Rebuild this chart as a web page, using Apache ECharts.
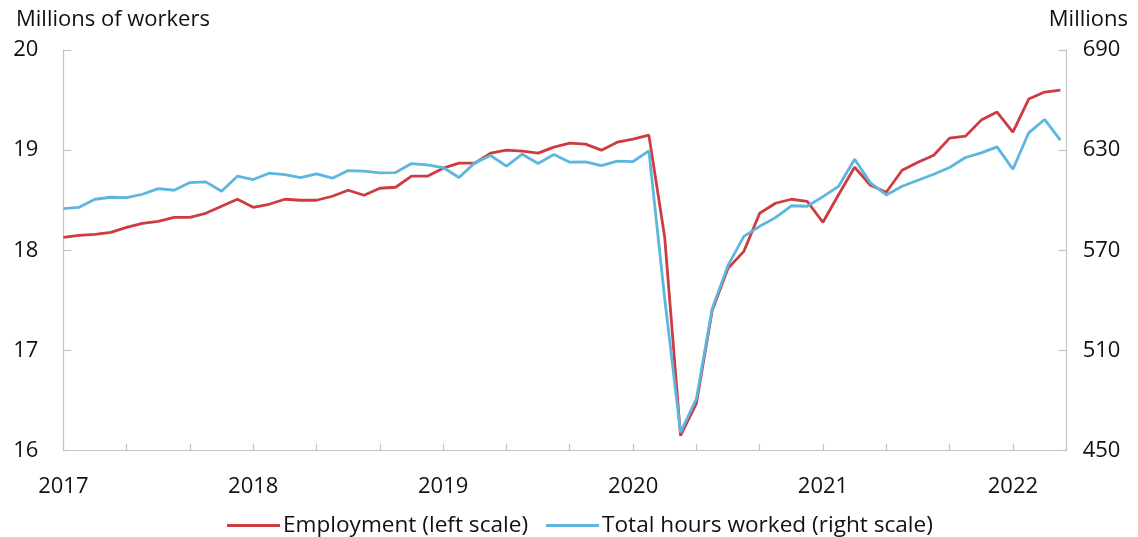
<!DOCTYPE html>
<html>
<head>
<meta charset="utf-8">
<script src="https://cdn.jsdelivr.net/npm/echarts@6/dist/echarts.min.js"></script>
<style>
html,body{margin:0;padding:0;background:#fff;}
#chart{width:1138px;height:537px;}
</style>
</head>
<body>
<div id="chart"></div>
<script>
// Monthly, Jan 2017 .. Apr 2022
const months = [];
for (let y = 2017; y <= 2022; y++) {
  for (let m = 1; m <= 12; m++) {
    if (y === 2022 && m > 4) break;
    months.push(y + '-' + String(m).padStart(2, '0'));
  }
}
const yearLabels = ['2017', '2018', '2019', '2020', '2021', '2022'];

// Employment, millions of workers (left scale)
const employment = [
  18.13, 18.15, 18.16, 18.18, 18.23, 18.27, 18.29, 18.33, 18.33, 18.37, 18.44, 18.51,
  18.43, 18.46, 18.51, 18.50, 18.50, 18.54, 18.60, 18.55, 18.62, 18.63, 18.74, 18.74,
  18.82, 18.87, 18.87, 18.97, 19.00, 18.99, 18.97, 19.03, 19.07, 19.06, 19.00, 19.08,
  19.11, 19.15, 18.13, 16.15, 16.47, 17.40, 17.82, 17.99, 18.37, 18.47, 18.51, 18.49,
  18.28, 18.56, 18.83, 18.65, 18.58, 18.80, 18.88, 18.95, 19.12, 19.14, 19.30, 19.38,
  19.18, 19.51, 19.58, 19.60
];

// Total hours worked, millions (right scale)
const hours = [
  595.0, 595.8, 600.6, 601.8, 601.6, 603.6, 607.0, 606.0, 610.6, 611.0, 605.4, 614.4,
  612.4, 616.2, 615.4, 613.6, 615.8, 613.2, 617.8, 617.4, 616.4, 616.6, 622.0, 621.2,
  619.6, 613.6, 622.4, 626.8, 620.4, 627.6, 622.0, 627.4, 622.8, 623.0, 620.8, 623.4,
  623.2, 629.6, 541.0, 461.0, 481.0, 535.0, 561.0, 578.4, 584.4, 589.6, 596.7, 596.4,
  602.2, 608.5, 624.6, 610.4, 603.2, 608.4, 612.0, 615.6, 619.6, 625.6, 628.4, 632.0,
  618.6, 640.4, 648.4, 636.0
];

const FONT = '"Open Sans", "Noto Sans", sans-serif';
const FS = 22;
const axisGray = '#c4c4c4';

const chart = echarts.init(document.getElementById('chart'), null, {renderer: 'canvas'});
chart.setOption({
  animation: false,
  backgroundColor: '#ffffff',
  textStyle: {fontFamily: FONT, color: '#111'},
  title: [
    {text: 'Millions of workers', left: 11, top: 4,
     textStyle: {fontFamily: FONT, fontSize: FS, fontWeight: 'normal', color: '#111'}},
    {text: 'Millions', right: 5, top: 4,
     textStyle: {fontFamily: FONT, fontSize: FS, fontWeight: 'normal', color: '#111'}}
  ],
  grid: {left: 63.3, right: 71.3, top: 50, bottom: 86.3, containLabel: false},
  legend: {
    left: 222, top: 509,
    itemWidth: 53, itemHeight: 3, itemGap: 18,
    icon: 'rect',
    textStyle: {fontFamily: FONT, fontSize: 22.6, color: '#111', padding: [0, 0, 0, -2]},
    data: ['Employment (left scale)', 'Total hours worked (right scale)']
  },
  xAxis: {
    type: 'value',
    min: 0, max: 63.4, interval: 4,
    splitLine: {show: false},
    axisLine: {lineStyle: {color: axisGray, width: 1.2}},
    axisTick: {inside: true, length: 7, lineStyle: {color: axisGray, width: 1.2}},
    axisLabel: {
      fontFamily: FONT, fontSize: FS, color: '#111', margin: 25,
      showMaxLabel: false,
      formatter: function (v) {
        return (Math.abs(v % 12) < 1e-6) ? yearLabels[Math.round(v / 12)] || '' : '';
      }
    }
  },
  yAxis: [
    {
      type: 'value', position: 'left', min: 16, max: 20, interval: 1,
      splitLine: {show: false},
      axisLine: {show: true, lineStyle: {color: axisGray, width: 1.2}},
      axisTick: {show: true, inside: true, length: 8, lineStyle: {color: axisGray, width: 1.2}},
      axisLabel: {fontFamily: FONT, fontSize: FS, color: '#111', margin: 25}
    },
    {
      type: 'value', position: 'right', min: 450, max: 690, interval: 60,
      splitLine: {show: false},
      axisLine: {show: true, lineStyle: {color: axisGray, width: 1.2}},
      axisTick: {show: true, inside: true, length: 8, lineStyle: {color: axisGray, width: 1.2}},
      axisLabel: {fontFamily: FONT, fontSize: FS, color: '#111', margin: 16}
    }
  ],
  series: [
    {
      name: 'Employment (left scale)', type: 'line', yAxisIndex: 0,
      data: employment.map((v, i) => [months.indexOf(months[i]), v]),
      showSymbol: false, symbol: 'none',
      lineStyle: {color: '#cd3c40', width: 2.8},
      itemStyle: {color: '#cd3c40'}
    },
    {
      name: 'Total hours worked (right scale)', type: 'line', yAxisIndex: 1,
      data: hours.map((v, i) => [months.indexOf(months[i]), v]),
      showSymbol: false, symbol: 'none',
      lineStyle: {color: '#5db6de', width: 2.8},
      itemStyle: {color: '#5db6de'}
    }
  ]
});
</script>
</body>
</html>
